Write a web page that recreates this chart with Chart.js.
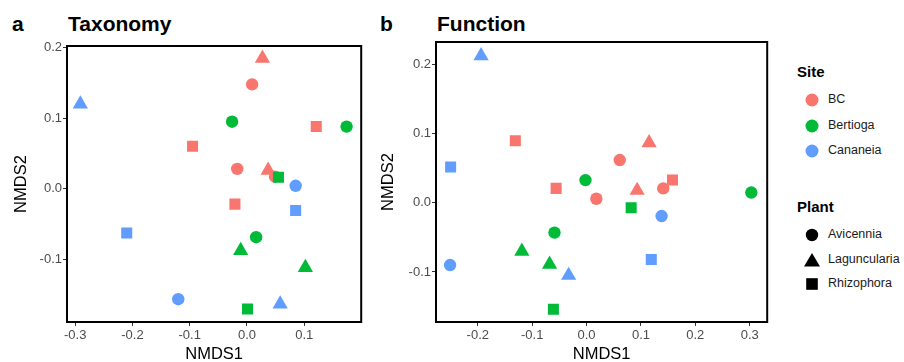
<!DOCTYPE html>
<html>
<head>
<meta charset="utf-8">
<script src="https://cdn.jsdelivr.net/npm/chart.js@4/dist/chart.umd.min.js"></script>
<style>
  body { margin: 0; background: #fff; font-family: "Liberation Sans", Arial, sans-serif; }
  #wrap { position: relative; width: 904px; height: 362px; overflow: hidden; }
  canvas { position: absolute; top: 0; }
  .lbl { position: absolute; font-weight: bold; color: #000; white-space: nowrap; }
  .leg { position: absolute; left: 797px; font-size: 12.5px; color: #1a1a1a; }
  .leg .ttl { font-size: 15px; font-weight: bold; color: #000; height: 24px; }
  .leg .row { position: relative; height: 25.5px; line-height: 25.5px; padding-left: 31px; }
  .leg .key { position: absolute; left: 8px; top: 6px; }
  #plantLegend .row { height: 24.5px; line-height: 24.5px; }
</style>
</head>
<body>
<div id="wrap">
  <div class="lbl" style="left:12px; top:12px; font-size:21px;">a</div>
  <div class="lbl" style="left:68px; top:12px; font-size:21px;">Taxonomy</div>
  <div class="lbl" style="left:380px; top:12px; font-size:21px;">b</div>
  <div class="lbl" style="left:437px; top:12px; font-size:21px;">Function</div>
  <canvas id="taxChart" width="370" height="362" style="left:0px"></canvas>
  <canvas id="funChart" width="406" height="362" style="left:370px"></canvas>
  <div class="leg" style="top:63px;" id="siteLegend"><div class="ttl">Site</div></div>
  <div class="leg" style="top:198px;" id="plantLegend"><div class="ttl">Plant</div></div>
</div>
<script>
// --- DATA ---
const sites = ['BC', 'Bertioga', 'Cananeia'];
const plants = ['Avicennia', 'Laguncularia', 'Rhizophora'];
const siteColors = ['#F8766D', '#00BA38', '#619CFF'];

// Taxonomy (panel a)
const taxSite  = ['BC','BC','BC','BC','BC','BC','BC','BC',
                  'Bertioga','Bertioga','Bertioga','Bertioga','Bertioga','Bertioga','Bertioga',
                  'Cananeia','Cananeia','Cananeia','Cananeia','Cananeia','Cananeia'];
const taxPlant = ['Laguncularia','Avicennia','Rhizophora','Rhizophora','Avicennia','Avicennia','Laguncularia','Rhizophora',
                  'Avicennia','Avicennia','Rhizophora','Avicennia','Laguncularia','Laguncularia','Rhizophora',
                  'Laguncularia','Avicennia','Rhizophora','Rhizophora','Avicennia','Laguncularia'];
const taxX = [0.027, 0.009, 0.121, -0.095, -0.017, 0.049, 0.037, -0.021,
              -0.026, 0.174, 0.055, 0.016, -0.011, 0.102, 0.001,
              -0.291, 0.085, 0.085, -0.210, -0.120, 0.058];
const taxY = [0.185, 0.148, 0.088, 0.060, 0.028, 0.017, 0.026, -0.022,
              0.095, 0.088, 0.016, -0.069, -0.088, -0.112, -0.171,
              0.120, 0.004, -0.031, -0.063, -0.157, -0.164];

// Function (panel b)
const funSite  = ['BC','BC','BC','BC','BC','BC','BC','BC',
                  'Bertioga','Bertioga','Bertioga','Bertioga','Bertioga','Bertioga','Bertioga',
                  'Cananeia','Cananeia','Cananeia','Cananeia','Cananeia','Cananeia'];
const funPlant = ['Rhizophora','Laguncularia','Avicennia','Rhizophora','Laguncularia','Rhizophora','Avicennia','Avicennia',
                  'Avicennia','Avicennia','Rhizophora','Avicennia','Laguncularia','Laguncularia','Rhizophora',
                  'Laguncularia','Rhizophora','Avicennia','Laguncularia','Rhizophora','Avicennia'];
const funX = [-0.131, 0.115, 0.061, -0.056, 0.093, 0.158, 0.141, 0.018,
              -0.002, 0.303, 0.082, -0.059, -0.119, -0.068, -0.061,
              -0.194, -0.250, -0.251, -0.033, 0.119, 0.138];
const funY = [0.090, 0.087, 0.062, 0.021, 0.018, 0.033, 0.021, 0.006,
              0.033, 0.015, -0.007, -0.043, -0.070, -0.089, -0.154,
              0.213, 0.052, -0.090, -0.105, -0.082, -0.019];

// Tick values
const taxXTicks = [-0.3, -0.2, -0.1, 0.0, 0.1];
const taxYTicks = [-0.1, 0.0, 0.1, 0.2];
const funXTicks = [-0.2, -0.1, 0.0, 0.1, 0.2, 0.3];
const funYTicks = [-0.1, 0.0, 0.1, 0.2];

// --- STYLE ---
const plantStyle = { Avicennia: 'circle', Laguncularia: 'triangle', Rhizophora: 'rect' };
const plantRadius = { Avicennia: 6.2, Laguncularia: 8.8, Rhizophora: 7.8 };
const FONT = '"Liberation Sans", Arial, sans-serif';

function buildDatasets(siteArr, plantArr, xs, ys) {
  return sites.map((s, si) => {
    const idx = siteArr.map((v, i) => v === s ? i : -1).filter(i => i >= 0);
    return {
      label: s,
      // Chart.js dessine l'ordre le plus bas en dernier -> Cananeia au-dessus
      order: sites.length - si,
      data: idx.map(i => ({ x: xs[i], y: ys[i] })),
      pointStyle: idx.map(i => plantStyle[plantArr[i]]),
      pointRadius: idx.map(i => plantRadius[plantArr[i]]),
      backgroundColor: siteColors[si],
      borderWidth: 0,
      pointBorderWidth: 0
    };
  });
}

// cadre du panneau
const framePlugin = {
  id: 'frame',
  afterDraw(chart) {
    const { ctx, chartArea: a } = chart;
    ctx.save();
    ctx.strokeStyle = '#000';
    ctx.lineWidth = 2;
    ctx.strokeRect(a.left, a.top, a.right - a.left, a.bottom - a.top);
    ctx.restore();
  }
};

function axis(min, max, ticks, title, isX, titlePad) {
  return {
    type: 'linear',
    position: isX ? 'bottom' : 'left',
    min, max,
    afterBuildTicks: sc => { sc.ticks = ticks.map(v => ({ value: v })); },
    afterFit: sc => { if (isX) sc.height = 40; else sc.width = sc.chart.canvas.id === 'taxChart' ? 67 : 66; },
    border: { display: false },
    grid: { drawOnChartArea: false, drawTicks: true, tickLength: 4, color: '#333', tickWidth: 1 },
    ticks: {
      color: '#4D4D4D',
      font: { family: FONT, size: 13 },
      padding: isX ? 2 : 1,
      maxRotation: 0,
      autoSkip: false,
      callback: v => v.toFixed(1)
    },
    title: {
      display: true, text: title, color: '#000',
      font: { family: FONT, size: 16.5 },
      padding: titlePad
    }
  };
}

function makeChart(id, ds, xr, yr, xt, yt, pad, yTitlePad) {
  return new Chart(document.getElementById(id), {
    type: 'scatter',
    data: { datasets: ds },
    options: {
      responsive: false,
      animation: false,
      layout: { padding: pad },
      plugins: { legend: { display: false }, tooltip: { enabled: false } },
      scales: {
        x: axis(xr[0], xr[1], xt, 'NMDS1', true, { top: 0, bottom: -2 }),
        y: axis(yr[0], yr[1], yt, 'NMDS2', false, { top: yTitlePad, bottom: 0 })
      }
    },
    plugins: [framePlugin]
  });
}

makeChart('taxChart', buildDatasets(taxSite, taxPlant, taxX, taxY),
  [-0.3143, 0.1995], [-0.1893, 0.2024], taxXTicks, taxYTicks,
  { top: 46, right: 4, left: 0, bottom: 0 }, 12);

makeChart('funChart', buildDatasets(funSite, funPlant, funX, funY),
  [-0.2769, 0.3322], [-0.1724, 0.2329], funXTicks, funYTicks,
  { top: 42, right: 5, left: 0, bottom: 0 }, 9);

// --- LEGENDE ---
const siteLegend = document.getElementById('siteLegend');
sites.forEach((s, i) => {
  const row = document.createElement('div');
  row.className = 'row';
  row.innerHTML = '<svg class="key" width="14" height="14"><circle cx="7" cy="7" r="6.5" fill="' + siteColors[i] + '"/></svg>';
  row.appendChild(document.createTextNode(s));
  siteLegend.appendChild(row);
});
const plantKeys = {
  Avicennia: '<circle cx="7" cy="7" r="6.2" fill="#000"/>',
  Laguncularia: '<polygon points="7,0 15,13.5 -1,13.5" fill="#000"/>',
  Rhizophora: '<rect x="1.2" y="1.2" width="11.6" height="11.6" fill="#000"/>'
};
const plantLegend = document.getElementById('plantLegend');
plants.forEach(p => {
  const row = document.createElement('div');
  row.className = 'row';
  row.innerHTML = '<svg class="key" width="16" height="14" style="overflow:visible">' + plantKeys[p] + '</svg>';
  row.appendChild(document.createTextNode(p));
  plantLegend.appendChild(row);
});
</script>
</body>
</html>
